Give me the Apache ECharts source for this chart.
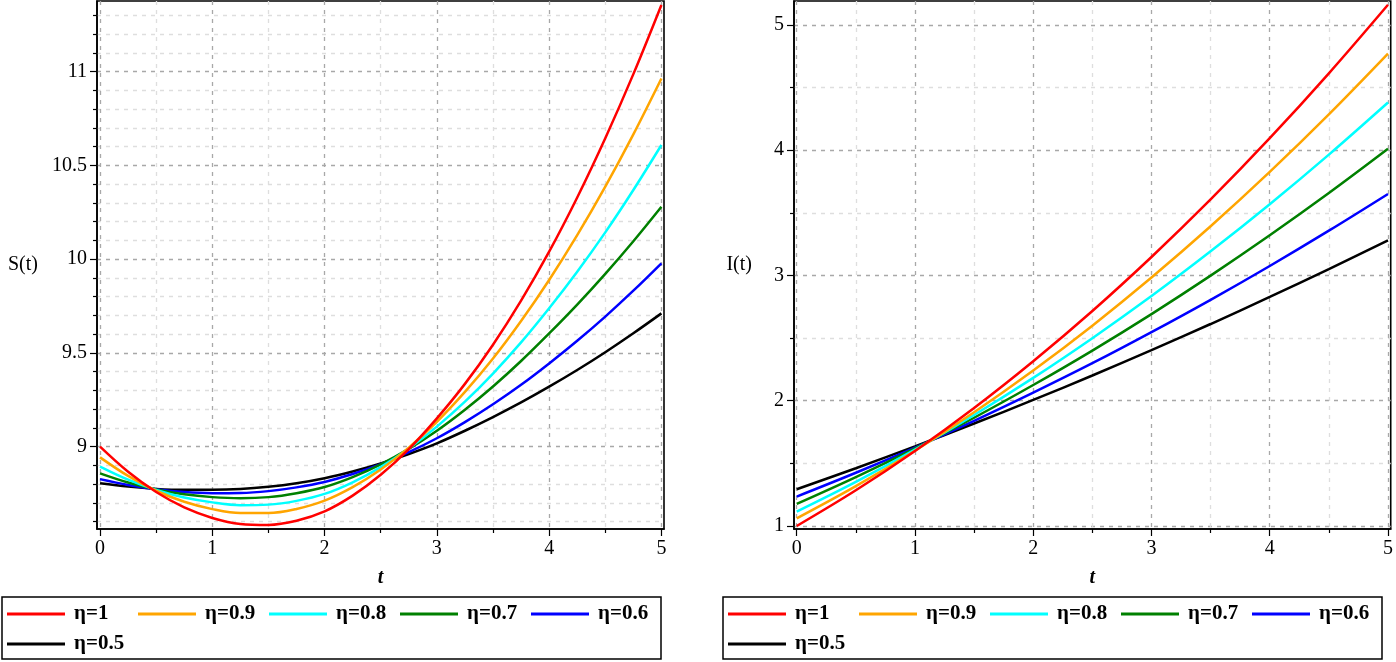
<!DOCTYPE html>
<html><head><meta charset="utf-8">
<script src="https://cdn.jsdelivr.net/npm/echarts@6/dist/echarts.min.js"></script>
<style>html,body{margin:0;padding:0;background:#fff;}#c{width:1396px;height:662px;}</style>
</head><body><div id="c"></div>
<script>
const tS = [0, 0.25, 0.5, 0.75, 1, 1.25, 1.5, 1.75, 2, 2.25, 2.5, 2.75, 3, 3.25, 3.5, 3.75, 4, 4.25, 4.5, 4.75, 5];
const tI = [0, 0.5, 1, 1.5, 2, 2.5, 3, 3.5, 4, 4.5, 5];
const seriesNames = ['η=1', 'η=0.9', 'η=0.8', 'η=0.7', 'η=0.6', 'η=0.5'];
const seriesColors = ['#ff0000', '#ffa500', '#00ffff', '#008000', '#0000ff', '#000000'];

// S(t), read at tS
const S_eta10 = [9.0, 8.866, 8.758, 8.676, 8.62, 8.588, 8.583, 8.605, 8.655, 8.739, 8.85, 8.987, 9.151, 9.335, 9.544, 9.779, 10.04, 10.329, 10.645, 10.987, 11.356];
const S_eta09 = [8.943, 8.844, 8.765, 8.706, 8.667, 8.646, 8.646, 8.668, 8.712, 8.784, 8.878, 8.995, 9.133, 9.292, 9.47, 9.67, 9.889, 10.128, 10.387, 10.666, 10.964];
const S_eta08 = [8.894, 8.824, 8.769, 8.729, 8.703, 8.688, 8.691, 8.711, 8.748, 8.81, 8.891, 8.99, 9.107, 9.24, 9.39, 9.556, 9.738, 9.933, 10.143, 10.369, 10.609];
const S_eta07 = [8.858, 8.809, 8.772, 8.746, 8.731, 8.725, 8.731, 8.752, 8.785, 8.838, 8.906, 8.988, 9.085, 9.197, 9.321, 9.457, 9.604, 9.758, 9.922, 10.096, 10.28];
const S_eta06 = [8.827, 8.796, 8.773, 8.758, 8.752, 8.753, 8.763, 8.783, 8.812, 8.854, 8.907, 8.971, 9.045, 9.131, 9.226, 9.33, 9.444, 9.565, 9.694, 9.832, 9.978];
const S_eta05 = [8.805, 8.787, 8.775, 8.77, 8.77, 8.774, 8.786, 8.805, 8.832, 8.868, 8.911, 8.961, 9.018, 9.085, 9.158, 9.236, 9.32, 9.409, 9.504, 9.605, 9.711];

// I(t), read at tI
const I_eta10 = [1.0, 1.285, 1.599, 1.942, 2.315, 2.716, 3.147, 3.606, 4.095, 4.613, 5.16];
const I_eta09 = [1.061, 1.318, 1.6, 1.908, 2.241, 2.599, 2.983, 3.392, 3.826, 4.285, 4.77];
const I_eta08 = [1.115, 1.352, 1.609, 1.886, 2.182, 2.499, 2.835, 3.192, 3.568, 3.964, 4.38];
const I_eta07 = [1.176, 1.39, 1.619, 1.864, 2.125, 2.4, 2.691, 2.998, 3.32, 3.657, 4.01];
const I_eta06 = [1.235, 1.425, 1.626, 1.839, 2.064, 2.299, 2.547, 2.805, 3.075, 3.357, 3.65];
const I_eta05 = [1.293, 1.461, 1.636, 1.818, 2.006, 2.201, 2.403, 2.612, 2.828, 3.05, 3.28];

const tMajorTicks = [0, 1, 2, 3, 4, 5];
const tMinorTicks = [0.5, 1.5, 2.5, 3.5, 4.5];
const sMajorTicks = [9, 9.5, 10, 10.5, 11];
const sMinorTicks = [8.6, 8.7, 8.8, 8.9, 9.1, 9.2, 9.3, 9.4, 9.6, 9.7, 9.8, 9.9, 10.1, 10.2, 10.3, 10.4, 10.6, 10.7, 10.8, 10.9, 11.1, 11.2, 11.3];
const iMajorTicks = [1, 2, 3, 4, 5];
const iMinorTicks = [1.5, 2.5, 3.5, 4.5];

const S_all = [S_eta10, S_eta09, S_eta08, S_eta07, S_eta06, S_eta05];
const I_all = [I_eta10, I_eta09, I_eta08, I_eta07, I_eta06, I_eta05];

const FONT = 'Liberation Serif';
const MAJOR_GRID = '#a8a8a8';
const MINOR_GRID = '#dedede';

function majorAxis(dim, gridIndex, min, max, ticks, extra) {
  const a = {
    type: 'value', gridIndex: gridIndex, min: min, max: max,
    position: dim === 'x' ? 'bottom' : 'left',
    axisLine: { show: true, onZero: false, lineStyle: { color: '#000', width: 1.6 } },
    axisTick: { show: true, customValues: ticks, length: 7, lineStyle: { color: '#000', width: 1.2 } },
    axisLabel: { show: true, customValues: ticks, margin: 10, color: '#000', fontFamily: FONT, fontSize: 20 },
    splitLine: { show: true, lineStyle: { color: MAJOR_GRID, type: [4, 5], width: 1.3 } }
  };
  return Object.assign(a, extra || {});
}
function minorAxis(dim, gridIndex, min, max, ticks) {
  return {
    type: 'value', gridIndex: gridIndex, min: min, max: max,
    position: dim === 'x' ? 'bottom' : 'left',
    axisLine: { show: false, onZero: false },
    axisTick: { show: true, customValues: ticks, length: 4, lineStyle: { color: '#000', width: 1.2 } },
    axisLabel: { show: false },
    splitLine: { show: true, lineStyle: { color: MINOR_GRID, type: [4, 5], width: 1.3 } }
  };
}

const xName = { name: 't', nameLocation: 'middle', nameGap: 39,
  nameTextStyle: { fontFamily: FONT, fontStyle: 'italic', fontWeight: 'bold', fontSize: 20, color: '#000' } };

const series = [];
seriesNames.forEach(function (n, i) {
  series.push({ name: n, type: 'line', xAxisIndex: 0, yAxisIndex: 0, smooth: 0.35, symbol: 'none',
    lineStyle: { color: seriesColors[i], width: 2.5 }, itemStyle: { color: seriesColors[i] },
    data: tS.map(function (t, k) { return [t, S_all[i][k]]; }), z: 10 - i });
});
seriesNames.forEach(function (n, i) {
  series.push({ name: n, type: 'line', xAxisIndex: 2, yAxisIndex: 2, smooth: 0.35, symbol: 'none',
    lineStyle: { color: seriesColors[i], width: 2.5 }, itemStyle: { color: seriesColors[i] },
    data: tI.map(function (t, k) { return [t, I_all[i][k]]; }), z: 10 - i });
});

function legend(left) {
  return {
    data: seriesNames, left: left, top: 597, width: 660, orient: 'horizontal',
    icon: 'rect', itemWidth: 58, itemHeight: 3, itemGap: 6, padding: [5, 5, 3, 5],
    borderColor: '#000', borderWidth: 1.5, backgroundColor: '#fff',
    formatter: '{a|{name}}',
    textStyle: { rich: { a: { width: 58, padding: [0, 0, 0, 4], lineHeight: 24, height: 24, fontFamily: FONT, fontWeight: 'bold', fontSize: 21, color: '#000' } } },
    selectedMode: false
  };
}

const option = {
  animation: false,
  backgroundColor: '#fff',
  grid: [
    { left: 97, top: 1, width: 567, height: 528, show: true, borderColor: '#000', borderWidth: 1.6, backgroundColor: 'transparent' },
    { left: 794, top: 1, width: 599, height: 528, show: true, borderColor: '#000', borderWidth: 1.6, backgroundColor: 'transparent' }
  ],
  xAxis: [
    majorAxis('x', 0, -0.027, 5.023, tMajorTicks, xName),
    minorAxis('x', 0, -0.027, 5.023, tMinorTicks),
    majorAxis('x', 1, -0.023, 5.023, tMajorTicks, xName),
    minorAxis('x', 1, -0.023, 5.023, tMinorTicks)
  ],
  yAxis: [
    majorAxis('y', 0, 8.561, 11.377, sMajorTicks, { name: 'S(t)', nameLocation: 'middle', nameRotate: 0, nameGap: 59,
      nameTextStyle: { fontFamily: FONT, fontSize: 20, color: '#000' } }),
    minorAxis('y', 0, 8.561, 11.377, sMinorTicks),
    majorAxis('y', 1, 0.976, 5.19, iMajorTicks, { name: 'I(t)', nameLocation: 'middle', nameRotate: 0, nameGap: 42,
      nameTextStyle: { fontFamily: FONT, fontSize: 20, color: '#000' } }),
    minorAxis('y', 1, 0.976, 5.19, iMinorTicks)
  ],
  legend: [legend(2), legend(723)],
  series: series
};
const chart = echarts.init(document.getElementById('c'), null, { renderer: 'canvas' });
chart.setOption(option);
</script></body></html>
